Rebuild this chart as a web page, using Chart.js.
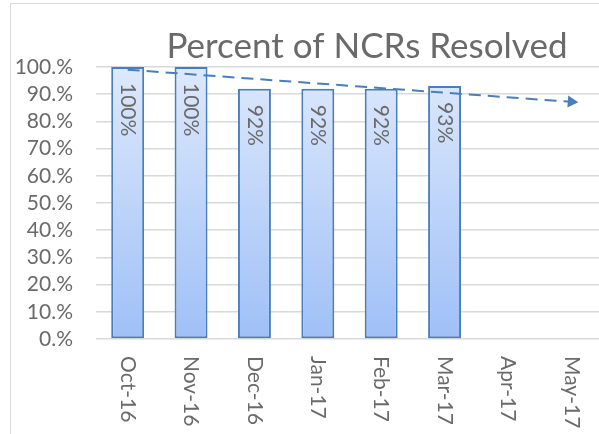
<!DOCTYPE html>
<html>
<head>
<meta charset="utf-8">
<script src="https://cdn.jsdelivr.net/npm/chart.js@4"></script>
<style>
  html, body { margin: 0; padding: 0; background: #fff; overflow: hidden; }
  #frame { position: absolute; left: 10px; top: 3px; width: 700px; height: 500px; border: 1px solid #d9d9d9; }
  #wrap { position: absolute; left: 0; top: 0; width: 610px; height: 434px; }
</style>
</head>
<body>
<div id="frame"></div>
<div id="wrap"><canvas id="grafica"></canvas></div>
<script>
(function(){
  const meses = ['Oct-16', 'Nov-16', 'Dec-16', 'Jan-17', 'Feb-17', 'Mar-17', 'Apr-17', 'May-17'];
  const resueltos = [100, 100, 92, 92, 92, 93, null, null];
  const tendencia = [99, null, null, null, null, null, null, 87.2];
  const etiquetas = ['100%', '100%', '92%', '92%', '92%', '93%'];
  const titulo = 'Percent of NCRs Resolved';

  const gris = '#6a6a6a';
  const azul = '#4a7ebb';
  const fuente = 'Lato, "Liberation Sans", sans-serif';

  // titulo del grafico
  const pluginTitulo = {
    id: 'titulo',
    afterDraw(chart){
      const c = chart.ctx;
      c.save();
      c.fillStyle = gris;
      c.font = '35px ' + fuente;
      c.textAlign = 'center';
      c.textBaseline = 'alphabetic';
      c.fillText(titulo, 367, 58);
      c.restore();
    }
  };

  // etiquetas verticales dentro de las barras
  const pluginEtiquetas = {
    id: 'etiquetas',
    afterDatasetsDraw(chart){
      const c = chart.ctx;
      const meta = chart.getDatasetMeta(1);
      c.save();
      c.fillStyle = gris;
      c.font = '21px ' + fuente;
      c.textAlign = 'left';
      c.textBaseline = 'middle';
      meta.data.forEach((bar, i) => {
        if (!etiquetas[i]) return;
        c.save();
        c.translate(bar.x, bar.y + 16);
        c.rotate(Math.PI / 2);
        c.fillText(etiquetas[i], 0, 0);
        c.restore();
      });
      c.restore();
    }
  };

  // meses del eje x, giradas hacia abajo
  const pluginMeses = {
    id: 'meses',
    afterDraw(chart){
      const c = chart.ctx;
      const x = chart.scales.x;
      c.save();
      c.fillStyle = gris;
      c.font = '21px ' + fuente;
      c.textAlign = 'left';
      c.textBaseline = 'middle';
      meses.forEach((m, i) => {
        c.save();
        c.translate(x.getPixelForTick(i), chart.chartArea.bottom + 17);
        c.rotate(Math.PI / 2);
        c.fillText(m, 0, 0);
        c.restore();
      });
      c.restore();
    }
  };

  const ctx = document.getElementById('grafica');

  new Chart(ctx, {
    data: {
      labels: meses,
      datasets: [{
        type: 'line',
        order: 0,
        data: tendencia,
        spanGaps: true,
        borderColor: azul,
        borderWidth: 2,
        borderDash: [12, 7],
        backgroundColor: azul,
        pointStyle: 'triangle',
        pointRotation: 94,
        pointRadius: [0, 0, 0, 0, 0, 0, 0, 7],
        pointBorderWidth: 0
      }, {
        type: 'bar',
        order: 1,
        data: resueltos,
        borderColor: azul,
        borderWidth: 2,
        borderSkipped: false,
        categoryPercentage: 1,
        barPercentage: 0.52,
        backgroundColor: (context) => {
          const area = context.chart.chartArea;
          if (!area) return '#c5d8f8';
          const g = context.chart.ctx.createLinearGradient(0, area.top, 0, area.bottom);
          g.addColorStop(0, '#dde9fc');
          g.addColorStop(1, '#9fc0f7');
          return g;
        }
      }]
    },
    options: {
      responsive: true,
      maintainAspectRatio: false,
      animation: false,
      layout: { padding: { top: 67, bottom: 87, right: 6, left: 0 } },
      plugins: {
        legend: { display: false },
        tooltip: { enabled: false },
        title: { display: false }
      },
      scales: {
        x: {
          grid: { display: false },
          border: { display: false },
          ticks: { display: false }
        },
        y: {
          min: 0,
          max: 100,
          afterFit: (scale) => { scale.width = 96; },
          border: { display: false },
          grid: { color: '#d9d9d9', lineWidth: 1.5, drawTicks: false },
          ticks: {
            stepSize: 10,
            autoSkip: false,
            padding: 23,
            color: gris,
            font: { family: fuente, size: 21 },
            callback: (v) => v + '.%'
          }
        }
      }
    },
    plugins: [pluginTitulo, pluginEtiquetas, pluginMeses]
  });
})();
</script>
</body>
</html>
